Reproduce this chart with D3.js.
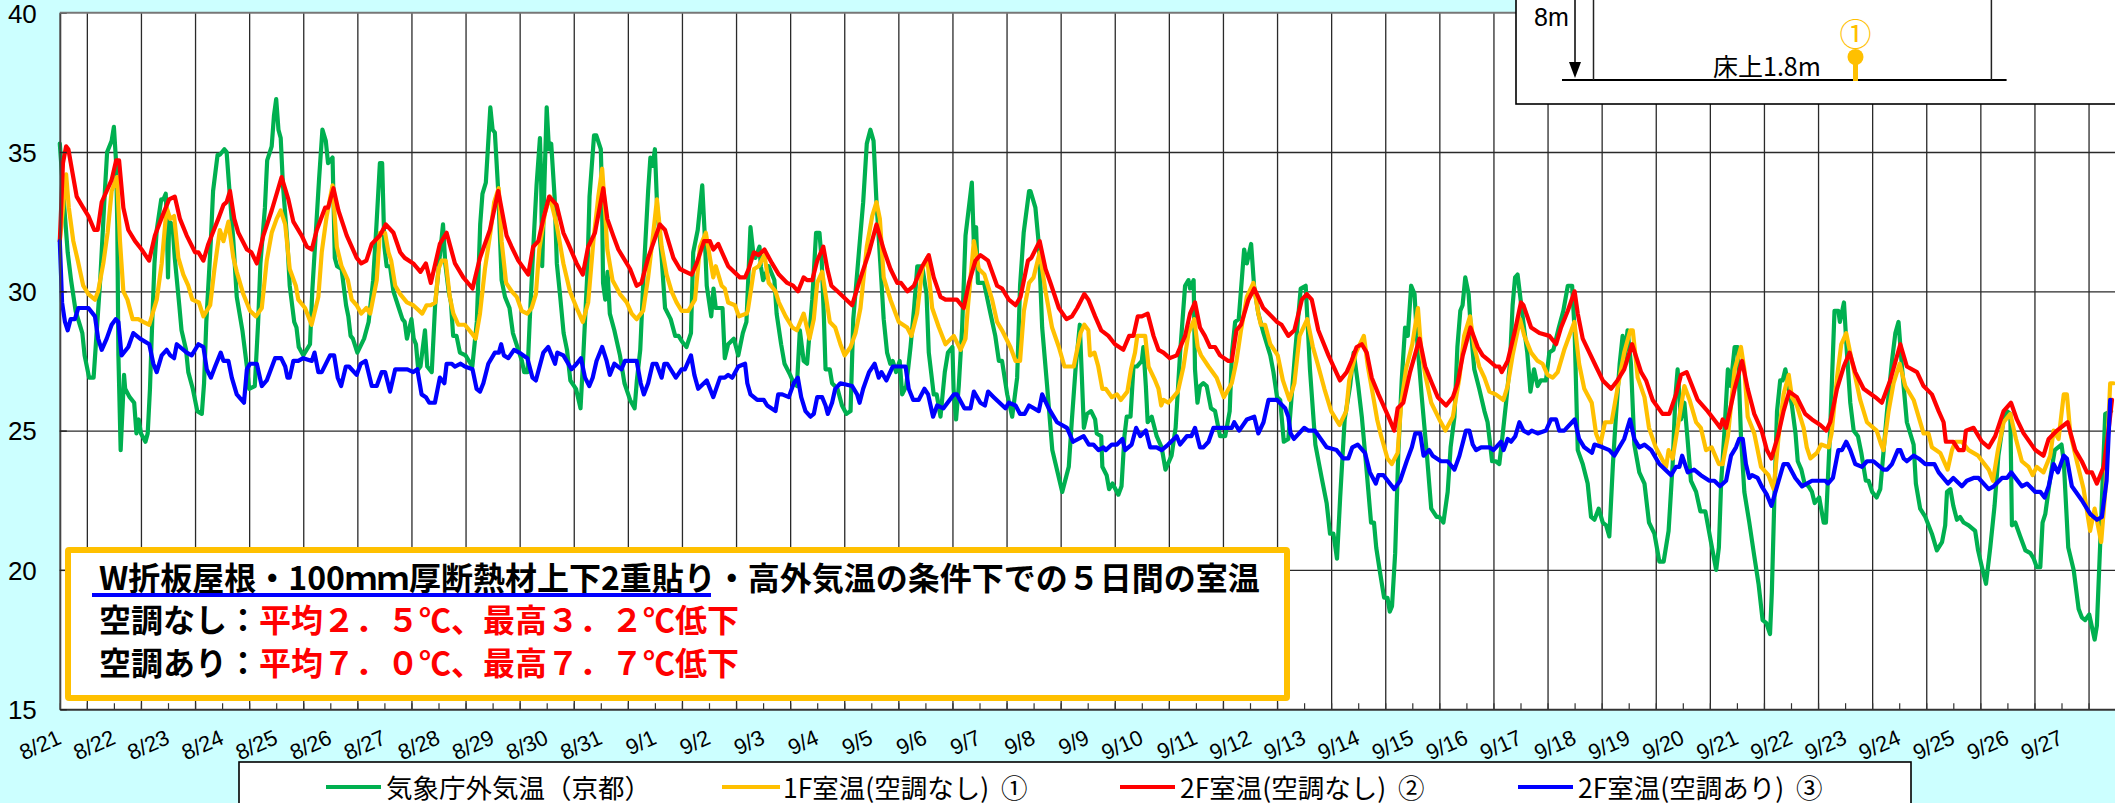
<!DOCTYPE html>
<html lang="ja">
<head>
<meta charset="utf-8">
<title>室温の推移</title>
<script src="https://cdn.jsdelivr.net/npm/d3@7"></script>
<style>
  html, body { margin: 0; padding: 0; background: #ccffff; overflow: hidden; }
  text { font-family: "Noto Sans CJK JP", "Noto Sans", sans-serif; }
  .num { font-family: "Liberation Sans", Arial, sans-serif; }
</style>
</head>
<body>
<div id="chart"></div>
<script>
// [経過時間(h), 温度(℃)] 8/21 00:00 起点, 画像から読み取り
const outdoorTemp = [[0,35.3],[2,33],[3.5,31.4],[5,30.4],[7,29.3],[10,28.5],[11,27.7],[13,26.9],[15,26.9],[16,28.1],[18,30.5],[20,33.6],[21,35],[23,35.4],[24,35.9],[25,34.6],[25.5,32.4],[26,27.7],[27,24.3],[28.5,27],[29,26.5],[31,26.2],[33,26],[34,24.9],[35,25.4],[36,24.9],[38,24.6],[39,24.9],[40,26.5],[41,28.9],[42,31],[43,32.2],[45,33.3],[46,33.3],[47,33.5],[47.5,32.4],[48,30.5],[48.5,32.5],[50,32.4],[51,31.2],[53,29.5],[54,28.6],[56,27.9],[57,27.1],[59,26.5],[61,25.7],[63,25.6],[64,26.7],[65,28.9],[67,31.8],[68,33.6],[70,34.9],[71,34.9],[73,35.1],[74,35],[75,33.9],[77,31.8],[78.5,29.8],[81,28.6],[83,27.3],[84,26.5],[86.5,26.6],[88,28.9],[89,31],[91,33],[92,34.7],[94,35.2],[95,36.3],[96,36.9],[97,35.8],[98,35.5],[99,33.8],[101,31.7],[102,30.2],[104,28.9],[105,28.7],[106,28],[108,27.7],[111,28.1],[112,30],[113.5,32],[115,34],[116.5,35.8],[118,35.4],[119,34.6],[121,34.8],[122,31.2],[123,30.9],[125,30.8],[127,29.5],[128,29.1],[129,28.4],[130,28.3],[132,27.8],[135,28.3],[137,28.9],[139,30.4],[140.5,32.4],[142,34.6],[143,34.6],[144,31.6],[145,30.9],[146.5,30.9],[148,30],[150,29.5],
  [152,29],[153,28.9],[154,28.3],[156,29],[157,28.3],[158,28.1],[159,27.2],[160,27.3],[162,28.6],[163,27.3],[165,27.1],[166.5,29.5],[168.5,31.2],[170,32.4],[171,31],[172.5,30],[173.5,29.6],[174.5,28.4],[176,28.4],[177.5,27.8],[180,27.7],[183,27.3],[185,28.9],[186.5,32.4],[187.5,33.5],[189,33.9],[191,36.6],[192,35.8],[193,35.7],[194.5,33.6],[196,30.4],[197.5,29.8],[199.5,29.4],[201,28.5],[203,28],[205,27.5],[206,27.1],[207.5,27.1],[208.5,29],[210,31.5],[211.5,33.8],[213,35.5],[213.5,34.2],[214,30.9],[215,33.9],[216,36.6],[217,35.1],[218,35.3],[219.5,33.4],[220.5,31],[222,29.8],[223.5,28.5],[225,27.9],[226.5,26.8],[229,26.5],[231,25.8],[232,27.3],[234,30.6],[235,33.4],[237,35.6],[238,35.6],[240,35.1],[240.5,33.6],[241,30.3],[242,29.7],[243,30.7],[244,29.2],[246,28.6],[248.5,27.7],[250.5,26.7],[253,26.1],[255,25.8],[256,26.8],[257.5,27.9],[259,30.6],[261,33.6],[262,34.8],[263,34.5],[264,35.1],[265,33],[267,31.2],[268.5,29.4],[271,29],[273,28.4],[274.5,28.4],[276,28.2],[278,28],[280,28.5],[281,31.4],[283,32.2],[285,33.8],[286,32.2],[287,30.2],[289,29.1],[290,30.1],[291,29.4],[294,29.4],[295,27.6],[296.5,28.1],[299,28.3],[301,27.7],[303,28.5],
  [304.6,28.9],[306.4,32.3],[307.6,31.4],[308.6,31.2],[310.4,31.6],[311,30.9],[312,30.4],[314.5,30.9],[317,30.4],[318,29.2],[320,28.1],[321.5,27.4],[324,27],[325.6,26.7],[327,26.6],[328.3,28.6],[330,27.5],[331.5,27.4],[333.8,29.7],[335.5,32.1],[337,32.1],[338,31.1],[339,29],[339.7,27.2],[341.6,27.2],[342.6,26.7],[345,26.5],[347,25.9],[349,25.6],[350.8,25.7],[352,29],[354.5,31.4],[356.4,33.2],[358,35.3],[359.6,35.8],[361,35.4],[362.3,33.2],[364,31],[365.5,29],[367,27.8],[368.4,27.4],[369.5,27.5],[371,27.1],[372.6,27.5],[373.7,26.3],[375.5,26.6],[377.4,28],[379,29.4],[380.4,30.9],[382.6,30.9],[384.5,29.9],[385.5,27.8],[387.7,26.3],[389,26.3],[390.7,25.5],[392.6,27.1],[394,27.8],[396,28],[396.5,26.5],[397.6,25.4],[398.8,26.6],[400.3,28.7],[401.8,32],[404.6,33.9],[405.5,31.7],[406.5,32.3],[407.3,30.3],[410,30.3],[412.6,29.3],[415,28.4],[416.6,27.5],[418,27.5],[420.3,26.3],[422.5,25.5],[424.7,26.9],[426,30.2],[427.6,32.1],[430,33.6],[430.6,33.6],[432.8,33],[434.3,31.7],[435.8,28.7],[438,26.6],[440.3,24.3],[444.7,22.8],[447.6,23.7],[449,25.4],[450.6,27.2],[452.5,28.8],[454.3,25.1],[455.7,25.6],[457.5,25.7],
  [459.3,25.4],[460,24.9],[462,24.8],[462.5,23.7],[464.4,23.4],[465.5,22.9],[467,23.1],[469.6,22.7],[471,23],[472.3,24.8],[473.3,25.5],[475,25.5],[476.3,27.3],[477.8,27.3],[480,27.5],[480.7,28],[481.8,26.6],[482.6,25.3],[484.4,25.5],[486.6,24.8],[488.8,24.4],[490.5,23.6],[493.2,24.1],[495,25.1],[497,27.8],[499.2,30.2],[500.7,30.4],[501.4,30.1],[503,30.4],[503.6,27.2],[504.7,26],[505.8,26.6],[507.3,26.7],[508.8,26.6],[510.7,25.8],[512.5,25.7],[514.7,24.8],[517,24.8],[519,25.7],[520,27.8],[521.4,28.9],[523,29],[525.4,31.5],[526.6,31],[528.5,31.7],[529.8,30.2],[531.7,29.2],[534,28.5],[537,27.7],[538.4,27.1],[540,26.2],[541.4,26.1],[543,24.6],[545,24.7],[548,27.8],[550.5,30.1],[552.7,30.2],[554.6,27.2],[557,24.5],[559.8,23.3],[562,22.4],[563.5,21.3],[565,21.3],[566.6,20.4],[568,22.6],[570,25.4],[572.4,26.6],[574,27.8],[576,26.6],[577.6,25.5],[579.8,23.5],[581.7,21.7],[583,21.7],[584,20.8],[585.7,19.9],[587.5,19],[589,19],[590,18.5],[591,18.7],[592.4,20.6],[593.8,24.2],[595.3,26.8],[596.8,28.7],[598,28.4],[599.5,30.2],[601,29.9],[602,28.4],[604.2,26.2],[606.4,24.2],[608.4,22.2],[610.8,21.9],
  [612,21.9],[613.8,21.7],[615.7,22.8],[617,24.4],[618.7,25.5],[620,28],[621.3,29.3],[622.3,29.5],[623.5,30.5],[625,29.9],[626,28.6],[627.5,27.2],[629.7,26.5],[632,25.7],[633.4,25.3],[635.4,23.9],[637,23.9],[638.6,23.8],[640,24.8],[641.6,26],[643.3,27.4],[644.5,29.5],[645.6,30.5],[646.7,30.6],[648.2,29.6],[649.7,28.6],[651,27.8],[652.4,26.4],[654,27.2],[655.6,26.6],[657,26.8],[659.3,26.8],[660.8,27.8],[662.6,27.9],[665,28.7],[667,29.3],[669,30.2],[670.9,30.2],[672,28.6],[673.4,24.3],[675.6,23.8],[677.8,23.1],[679.3,21.9],[680.8,21.8],[682.7,22.2],[684.5,21.7],[686,21.6],[687.4,21.2],[689,23.8],[690.4,25.6],[692,27.4],[693.3,28.4],[694,27.5],[695.5,28.6],[697,27.4],[698.5,24.5],[700.7,23.5],[703,23.1],[705,21.7],[707.4,21.3],[709.6,20.3],[711.5,20.3],[713.7,21.4],[715.5,23.8],[716.7,26.2],[717.7,27.2],[719.2,25.4],[720.7,26],[722,24.8],[723.6,23.2],[725.9,22.8],[727.8,22.1],[730,22.1],[732.5,21],[734.8,20],[736,20.8],[737,23.1],[738.5,25],[740,27.2],[741.2,26.6],[743,28],[744.4,28],[745.8,24.8],[747.3,22.8],[749.5,21.7],[751.7,20.5],[753.6,19.5],[755.4,18.2],[757,18.1],[758.7,17.7],
  [759.5,19.2],[760.7,22.8],[761.8,25.7],[763.2,26.8],[764.3,26.8],[765.5,27.2],[767,26.5],[768.4,25.9],[770,24.9],[771,23.9],[772.6,23.6],[774,23.1],[775.8,23],[777.3,22.8],[778.5,22.4],[780.5,22.6],[782.5,21.7],[783.5,21.7],[785.4,25.1],[787.3,29.3],[789,29.3],[789.7,28.9],[791.5,29.6],[792.8,27.8],[794.3,26],[795.8,25],[797.7,24.8],[799.2,24.2],[801.2,23.2],[802.4,23.2],[804,22.8],[806,22.6],[807.6,22.9],[809,24.2],[810.6,25.7],[812.8,27.5],[814.3,28.5],[815.7,28.9],[817.2,27.3],[819.4,25.3],[822.4,24.5],[823.4,23.1],[825.3,22.2],[827.6,21.9],[830.5,21.3],[832.7,20.7],[835,21],[836.4,21.6],[837.2,22.8],[838.7,22.9],[840,22.3],[841.6,21.8],[843,21.9],[844.6,21.7],[846.8,21.6],[849.7,21.4],[851,20.7],[852.7,20.1],[854.5,19.5],[856.4,20.8],[858.3,22.3],[860,24.1],[862.3,25.4],[863.8,25.7],[865.3,25.6],[866,21.6],[867.5,21.7],[869.7,21.2],[872,20.7],[874.2,20.6],[875.7,20.4],[877,20.1],[878.6,20.1],[879.6,21.7],[880.8,22],[883,23.3],[885,24.3],[888,24.5],[889,23.9],[891,20.8],[893.4,20],[895.6,18.6],[897,18.3],[898.5,18.2],[900.3,18.4],[902.7,17.5],[903.7,18],[905.2,21],[907.4,25.6],[910,25.7]];

const room1F = [[0,31.8],[2.8,34.2],[4,33],[6,31.8],[8,31.1],[10.4,30.2],[12.7,29.9],[15.6,29.7],[17,30],[19.3,31],[21.2,32.1],[23,33.6],[25.4,34.1],[26.7,31.8],[28.2,30],[30,29.7],[32.3,29],[34.8,29],[37,28.9],[39.7,28.8],[43,29.7],[45.2,31],[47.4,33],[49,32.6],[50.7,32.7],[52.6,31.2],[54.8,30.6],[57,30.2],[58.8,29.7],[61.7,29.6],[63.7,29.1],[66.7,29.5],[68.6,30.8],[71,32.2],[72.6,31.8],[74.8,32.5],[77,31.2],[78.5,30.7],[81.4,29.9],[84.4,29.3],[87,29.1],[89.6,29.4],[91.8,31.1],[94,32.1],[96.2,32.6],[98,32.9],[100,32.4],[102,30.8],[104.7,30.2],[105.8,29.7],[108.8,29.4],[111.7,28.8],[114.7,29.8],[116.2,31.4],[118.4,32.7],[121,33.8],[122.9,31.6],[125,30.9],[127.8,30.4],[129.5,29.7],[131.7,29.5],[133.7,29.2],[136,29.4],[137.7,29.2],[140.6,30.4],[142,32.1],[144.3,32.1],[145.8,31.4],[147,31.1],[148.8,30.2],[151,29.9],
  [154,29.6],[156.8,29.5],[160.8,29.2],[162.7,29.5],[164.5,29.5],[166.6,29.6],[168,30.8],[169.4,31.1],[171.2,31.1],[173,29.8],[174.6,29.2],[176.8,28.8],[179.7,28.8],[182.7,28.5],[184.5,28.3],[186.4,29.2],[188.6,30.8],[191,32.1],[192.7,33.2],[194.7,33.7],[196,31.8],[198,30.3],[200.5,30],[202.7,29.8],[204.9,29.3],[207.4,29.2],[209.3,29.4],[211.2,29.9],[212.7,31.5],[215.2,32.8],[217.4,33.4],[220.4,32.4],[223.4,31],[226.3,30],[229.3,29.4],[232,28.9],[234.4,29.6],[236.7,31.8],[238.9,33.4],[240.6,34.4],[241.8,33],[242.9,31.5],[245.2,30.4],[248.5,29.9],[251.5,29.6],[253.7,29.2],[255.9,29],[258.8,29.3],[261,30.5],[263.3,32.1],[264.9,33.3],[267,31.6],[269.2,30.6],[271.4,30],[273.6,29.6],[275.8,29.3],[278.8,29.3],[281.8,29.7],[284,31.6],[286.6,32.1],[288.4,31.2],[289.9,30.5],[291,30.9],[293.6,30.2],[295,30.1],[296.5,29.6],[299.5,29.5],[301.3,29.1],[304.7,29.2],
  [305.2,29.3],[308,30.8],[310,30.9],[312.6,31.3],[314.5,30.3],[317.5,30],[319,29.6],[322,29.1],[325,28.7],[327,28.6],[330,29.2],[332.6,28.3],[334.5,29],[336,30.3],[338.2,30.7],[339.7,29.9],[341.6,28.9],[344,28.7],[346.3,28.1],[348.2,27.7],[350.8,28],[353,28.5],[355.2,29.4],[358,31.6],[360.4,32.7],[362.3,33.2],[363.8,32.6],[365.5,30.5],[368.5,29.7],[372.2,28.9],[375.9,28.7],[377.8,28.4],[380.3,29.2],[382.6,30.8],[384.8,31.2],[387,29.4],[390,28.7],[392.9,28.1],[396.6,28.4],[399.6,27.9],[401.8,28.3],[402.8,29.4],[405.5,31.8],[407.7,30.8],[410.2,30.6],[413.6,29.7],[415.8,28.9],[418,28.6],[421.7,28],[424,27.5],[426,27.5],[427.7,29.3],[430,30.3],[432,30.5],[434.7,31.4],[437.3,30],[440.2,28.7],[443.2,28],[445.7,27.3],[449.8,27.3],[452.8,28.5],[454.5,28.8],
  [456.3,28.6],[457,27.7],[459,27.8],[460.7,27.3],[462.5,26.5],[464,26.5],[466.7,26.2],[469,26.3],[470.7,26.1],[473.6,26.4],[475.2,27.2],[477,27.8],[478,28.4],[481.5,28.4],[483,27.3],[485.9,26.8],[487.4,26.5],[488.6,25.9],[489.6,26.1],[491.8,26],[496,26.4],[498.5,27.3],[500.7,28.5],[503.3,29],[504.8,28],[506.3,27.7],[509.6,27.3],[513.2,26.9],[516.4,26.2],[519.9,26.7],[522,27.5],[524,28.6],[526.6,29.8],[529.5,30.3],[531.7,29.2],[532.8,28.8],[534.7,28.8],[537,28.1],[540.3,27.7],[542.6,26.8],[545.5,26.1],[547.7,26.7],[550,28.4],[553.4,29],[555.9,28],[558,27.4],[561,26.5],[564,25.7],[567.7,25.2],[570.7,25.7],[572,26.8],[575,27.8],[578.5,28.4],[580.3,27.3],[582.5,26.3],[584.4,25.4],[586.2,24.8],[589,24],[590.9,23.8],[593.5,24.2],[595,25.9],[597.2,27.2],[600,28.1],[602.5,29.4],[604,27.8],[606,26.9],[608.4,26],
  [612,25.4],[614.7,25],[618,25.5],[620.9,26.9],[623,28.4],[625.6,29.1],[627.5,28],[629.7,27.3],[632,26.9],[634.2,26.4],[637,26.3],[640.4,26.1],[642.3,26.6],[644.5,27.7],[647.8,29],[649.7,28.4],[652.7,27.8],[655.6,27.5],[657.8,27.4],[660,27],[662.3,26.9],[664.5,27.1],[667.4,27.9],[671.9,28.9],[674,27.4],[676.3,26.5],[679.6,26],[681.5,24.9],[683.4,24.5],[685.5,25.3],[688.4,25.3],[691,26.5],[694,27.8],[696.7,28.6],[697.8,28.6],[700,26.9],[703,26.2],[705,25.1],[708,24.4],[712.6,23.7],[713.7,24.3],[715.5,24],[718.5,25.5],[720.7,26.6],[723,26.1],[725.9,25.3],[728,25.1],[730.3,24.3],[732.8,24.4],[736,23.8],[737.7,23.8],[740,24.8],[743,27.2],[745.8,28],[747.3,27.2],[748.8,25.5],[751.7,24.9],[754.7,23.7],
  [758,23.4],[760.3,22.9],[762.5,24.8],[764.7,26.3],[767,27],[768.4,26.2],[770.6,25.9],[773.6,25.1],[775,24.4],[776.6,24],[779.5,24.2],[781.4,24.5],[784.7,24.4],[786,24.9],[788.4,26.9],[790.3,28.1],[792.5,28.5],[795,27.5],[798.7,26.1],[801.7,25.3],[806,25],[808,24.5],[809,24.3],[811.3,25.7],[813.5,26.7],[816.2,27.4],[818.7,26.6],[822.4,26.1],[824.6,25.5],[826.8,24.9],[829,24.9],[830.5,24.4],[834.2,24.2],[837.5,23.6],[839.4,24.3],[840.9,24.6],[843.8,24.6],[846.8,24.3],[851,24.1],[855.7,23.6],[857.6,23.2],[859.8,24.3],[862.3,25.3],[865.3,25.6],[867.8,24.7],[870.4,23.9],[873.4,23.7],[875.2,23.4],[877,23.7],[880,23.5],[883,24.1],[884.5,25],[886.7,24.7],[889,26.3],[890.4,26.3],[891.9,24.9],[894.8,23.9],[897.8,22.9],[900.7,21.4],[902.7,22.2],[905.6,21],[907.4,22.8],[909.6,26.7],[911,26.7]];

const room2F = [[0,31.8],[1.4,34.6],[2.8,35.2],[3.8,35.1],[5.3,34.4],[7.5,33.4],[10.4,33],[12.7,32.7],[15.3,32.2],[16.8,32.2],[18.6,33.2],[20.8,33.6],[23,34],[25,34.7],[26.3,34.7],[28.2,33],[30.4,32.2],[33.4,31.8],[36.3,31.5],[39.6,31.1],[42.2,32],[45.5,32.7],[48.5,33.3],[51,33.4],[53.3,32.6],[56.3,32],[60,31.4],[61.5,31.4],[63.7,31.1],[65.9,31.7],[70.3,32.6],[72.6,33.1],[74,33.2],[75.5,33.6],[77.4,32.6],[79.2,32.1],[83,31.5],[85,31.4],[87.4,31],[90.3,32],[94,32.9],[98.4,34.1],[101.4,33.3],[103.6,32.5],[107.3,32],[109.6,31.6],[111.8,31.5],[114,32.2],[117.7,33],[119,33],[121.4,33.7],[123.6,32.9],[127.3,32],[131.7,31.2],[133.7,31],[136,31.1],[138.4,31.7],[142,32],[144.6,32.4],[148,32.1],[151,31.4],
  [153,31.2],[156.8,31],[160,30.7],[162.4,31],[164.6,30.3],[168.6,31.7],[171.6,32.1],[175.3,31],[179,30.5],[183.1,30.1],[186.4,31.2],[190.8,32.2],[194.5,33.6],[198.2,32],[200.4,31.6],[203.4,31.1],[207.8,30.6],[210,31.6],[212.3,31.8],[214.5,32.6],[217.1,33.4],[220.4,33.1],[223.4,32.1],[225.6,31.7],[229.3,31],[232,30.6],[234.4,31.6],[237.4,32.1],[241.1,33.7],[242.9,32.6],[245.5,32],[247.8,31.5],[253,30.8],[255.9,30.2],[258,30.3],[261,31.2],[263.6,31.8],[266.2,32.4],[268.5,32.2],[272.2,31.2],[275.1,30.8],[280.3,30.6],[282.5,31],[285.8,31.8],[288.4,31.8],[289.9,31.5],[292.1,31.7],[296.5,30.9],[301.7,30.5],[304,30.5],
  [305.6,30.8],[307.9,31.4],[310,31.3],[312.6,31.5],[316,31],[319,30.6],[322.7,30.3],[325.3,30.2],[327.5,30],[330,30.5],[331.5,30.4],[333.8,30.4],[336,31.1],[338.7,31.6],[340.5,30.8],[342.3,30.2],[345,30],[351.5,29.5],[354.5,30.3],[359,31.4],[362.3,32.4],[365.5,31.5],[368.5,30.8],[371.5,30.3],[373.2,30.3],[376,30],[378.9,30.2],[382.6,30.9],[385.5,31.3],[387.7,30.5],[390.7,29.8],[392.9,29.7],[398,29.7],[401,29.4],[403.3,30.3],[406.2,31.1],[408.4,31.3],[411.8,31.1],[415.8,30.2],[418,30.1],[421,29.7],[424,29.5],[426.2,29.8],[429.5,31.1],[431,31.2],[434.7,31.8],[437.3,30.8],[439.5,30.3],[443.2,29.4],[446.6,29],[449,29.1],[451.3,29.4],[454.5,29.9],
  [456.3,29.7],[459.3,29.1],[462,28.6],[465.2,28.4],[468.1,28.1],[471.8,27.9],[474.4,28.4],[476.3,28.4],[478.2,29.1],[480,29.1],[482.6,29.2],[485.2,28.4],[487.4,27.9],[489.6,27.8],[492.4,27.6],[495.5,27.7],[499.2,28.4],[501.4,29.2],[503.6,29.6],[505.8,28.7],[508,28.4],[510.3,28],[512.5,28],[514.7,27.7],[518.4,27.5],[519.9,27.5],[522,28.6],[524,28.8],[527.3,29.7],[529.9,30.1],[533.9,29.4],[540,28.9],[542,28.8],[545,28.4],[547.7,28.6],[551,29.7],[553.2,29.9],[555.4,29.7],[558.3,28.6],[562.8,27.7],[567.9,26.8],[570.9,27.1],[573,27.5],[575.3,28],[577.6,28.1],[579.8,27.8],[582,26.9],[585,26.3],[589.4,25.5],[592,25],[593.5,25.8],[596,26],[599,27.1],[603.2,28.3],[605.7,27.3],[608.7,26.7],
  [611.3,26.2],[615,25.9],[618,26.2],[620.1,26.7],[622.4,27.7],[625.8,28.7],[629,28],[631.2,27.7],[634.2,27.5],[637,27.3],[638.6,27.3],[639.7,27.1],[642.3,27.5],[645.3,28.5],[648.2,29.6],[649.3,29.5],[652.7,28.7],[656.4,28.5],[660.8,28.4],[663.8,28.1],[666,28.7],[669,29.3],[672,30],[673.4,29.2],[675.6,28.3],[681.5,27.3],[684.5,26.8],[688.2,26.5],[691,26.8],[694,27.2],[697.5,28.1],[701.5,27.1],[703.7,26.8],[706.6,26.1],[711,25.6],[714,25.6],[717,26.3],[719.2,27],[721.7,27.1],[726.6,26.1],[731,25.7],[734.8,25.3],[736.6,25.1],[737.7,25.4],[739.2,25.1],[743,26.5],[746.3,27.5],[748.8,26.5],[751.7,25.6],
  [755,25],[757.3,24.3],[759.3,24],[762.2,24.8],[764.7,25.7],[767.2,26.4],[770.6,26.2],[774.3,25.6],[777.3,25.4],[781,25.2],[783.7,25],[785.4,25.3],[788.4,26.5],[791.4,27.3],[794,27.8],[796.5,27.1],[800.2,26.5],[805.4,26.2],[808.3,26],[812,26.8],[816.5,28.1],[819.4,27.3],[823.9,27.1],[826.8,26.6],[830.5,26.3],[833.5,25.7],[835.7,25.3],[836.7,24.6],[840,24.6],[842.4,24.3],[844.6,24.3],[845.6,25],[849,25.1],[852.7,24.6],[855.7,24.4],[858.6,24.8],[862.3,25.7],[865.6,26],[868.2,25.4],[871.2,24.9],[876.4,24.3],[880,24.1],[882.3,24.7],[886,25],[890.7,25.3],[894.1,24.3],[897,23.9],[899.3,23.5],[901.5,23.5],[903.7,23.1],[906.7,23.7],[909,25.1],[910.4,26.1]];

const room2FAc = [[0,31.8],[1,29.6],[2.3,28.9],[3.5,28.6],[4.8,29],[6.7,29],[8.2,29.4],[10.4,29.4],[12.7,29.4],[15.6,29.1],[17,28.3],[18.6,27.9],[20.8,28.3],[23,28.8],[24.8,29],[26,28.9],[27.4,27.7],[30.4,28],[32.6,28.5],[35.6,28.3],[39.7,28.1],[41.5,27.4],[43,27.1],[45.2,27.7],[47.4,27.9],[49,27.7],[50.7,27.6],[51.9,28.1],[56.3,27.8],[58.5,27.7],[61.5,28.1],[63.7,28],[65.2,27.2],[67,26.9],[68.9,27.3],[71.4,27.8],[72.6,27.5],[74.8,27.5],[76.3,26.9],[78.5,26.3],[81.7,26],[83,27.2],[84.4,27.4],[87.4,27.4],[89.6,26.6],[91.8,26.8],[95.5,27.6],[98.2,27.6],[100,27.3],[101,26.9],[102,26.9],[103.6,27.5],[105.8,27.5],[108,27.6],[111.8,27.5],[113,27.8],[114.7,27.1],[116.2,27.1],[119.9,27.7],[121.7,27.7],[123.3,26.9],[124.8,26.6],[126.9,27.3],[128.3,27.3],[131.7,27],[133.5,27.4],[135.7,27.5],[138.4,26.6],[140.6,26.6],[142.8,27.1],[144.3,27.1],[146.5,26.4],[148.8,27.2],
  [151,27.2],[154.2,27.2],[156.8,27.1],[158.6,27.2],[160.5,26.3],[162.4,26.2],[163.9,26],[166.4,26],[168.6,26.9],[170.6,26.7],[171.6,27.4],[173.8,27.4],[175.3,27.3],[177.8,27.4],[179.7,27.3],[183.1,27.2],[184.9,26.5],[186.4,26.4],[187.9,26.7],[190.1,27.4],[193,27.8],[194.8,27.8],[195.8,28.1],[197,27.7],[199,27.6],[201.5,27.9],[203.8,27.8],[207.4,27.6],[209.7,26.9],[211.2,26.8],[214.5,27.8],[216.7,28],[219.7,27.4],[220.7,27.8],[223.4,27.7],[227,27.2],[229.3,27.4],[231.2,27.6],[233,26.9],[234.9,26.6],[236.4,26.9],[238.1,27.5],[240.6,28],[242.6,27.5],[244,27],[246,27.4],[249.2,27.2],[250.7,27.5],[255.9,27.5],[257.7,26.7],[259.1,26.3],[261,26.7],[263,27.4],[264.7,27.4],[267,26.9],[268.2,27.4],[269.5,27.4],[273.3,26.9],[275.8,27.2],[277.3,27.2],[280,27.7],[281.5,27],[283.2,26.5],[287,26.8],[289.9,26.2],[292.9,26.9],[295,26.9],[296.5,27],[298.3,26.9],[301,27.3],[304,27.4],
  [305,26.7],[306.4,26.3],[309.4,26.1],[312.3,26.1],[313.8,25.9],[317.5,25.7],[318.7,26.3],[320.5,26.3],[323.4,26.2],[325.6,26.7],[327.4,26.9],[328.9,26.2],[330.8,25.7],[333,25.5],[334.5,25.6],[336,26.2],[338.2,26.2],[339.7,25.9],[340.7,25.6],[342.6,26],[344,26.5],[346.3,26.7],[351.5,26.6],[353.7,26.3],[354.8,26],[356.4,26.5],[359,27.1],[361.5,27.4],[363.3,26.9],[364.5,27.1],[366.7,26.8],[369.5,27.3],[372.9,27.3],[375.2,27.3],[376.6,26.5],[378.6,26.1],[381,26.1],[383.6,26.5],[385.2,26.3],[387.4,25.5],[389.2,25.9],[392,25.8],[396.6,26.3],[398,26.3],[401.3,25.8],[404,25.8],[405.5,26.4],[408.4,26],[410.4,25.9],[411.8,26.4],[414.3,26.2],[419.5,25.8],[421,26],[424,25.9],[426,25.6],[428,25.6],[430,25.9],[434.3,25.7],[435.8,26.3],[438.7,25.8],[442.4,25.3],[446.8,25.1],[449.5,24.6],[454.2,24.8],[456.5,24.5],
  [458.5,24.5],[460.8,24.3],[463,24.4],[464,24.3],[466.7,24.5],[469,24.5],[471.4,24.7],[472.6,24.3],[475.5,24.5],[477.5,25.1],[479.3,24.8],[481.8,25],[483.7,24.4],[486.6,24.4],[488.8,24.3],[491.7,24.5],[495.5,24.8],[497,24.5],[500,24.8],[502,24.8],[503.6,25.1],[505.8,24.4],[507.3,24.4],[509.6,24.6],[511.8,25.1],[513.7,25.1],[519.9,25.1],[521,25.3],[523.2,25],[526.6,25.4],[529.9,25.5],[531.7,24.9],[534,25.3],[536.2,26.1],[540,26.1],[543.6,25.8],[545,25.5],[546,24.9],[547.5,24.7],[552,25.1],[553.8,25],[556.8,25],[562,24.4],[566.4,24.3],[569.4,24],[571.6,24],[573.4,24.4],[575.8,24.5],[579,24.2],[581.2,23.5],[583.8,23.1],[585,23.4],[587.2,23.4],[592,22.9],[594.6,23.2],[597.5,23.9],[599.8,24.4],[601.3,24.9],[603.5,24.9],[605,24.1],[607.5,24.3],
  [609,24.1],[612.7,23.9],[615.7,23.9],[618.7,23.6],[620.9,24.1],[623.8,25],[625.3,25],[626.8,24.5],[628.3,24.3],[630.5,24.4],[634.2,24.4],[636,24.3],[639.4,24.6],[640.5,24.3],[642.3,24.7],[643.8,24.6],[645.7,24.8],[647.5,25.3],[649.3,25],[651.5,24.9],[653,25],[655.6,24.9],[659.3,25],[661.5,25.4],[663.8,25.4],[665.2,25],[667.4,25],[672,25.4],[674,24.7],[676.3,24.4],[679.7,24.2],[680.8,24.5],[684.5,24.4],[687.4,24.3],[689.6,24.1],[694,24.7],[696.6,25.4],[698.5,24.7],[700.7,24.4],[703,24.5],[706,24.3],[709.6,23.8],[714.8,23.4],[717,23.7],[718.5,23.7],[719.7,24.1],[722.2,23.5],[725,23.6],[728,23.4],[731.8,23.2],[734,23.2],[736.5,23],[739.2,23.2],[741.4,24.1],[743.6,24.4],[745,24.7],[746.6,24.7],[748,23.8],[749.5,23.3],[750.7,23.4],[753.2,23.3],
  [755,23],[757.3,22.7],[759.3,22.3],[761.8,23],[764.7,23.8],[766.6,23.8],[769.9,23.3],[772.9,23],[775,23.1],[777.3,23.2],[783.2,23.2],[784.4,23.1],[786.6,23.3],[789,24.3],[790.6,24.3],[792.5,24.6],[794.3,24.3],[796.5,23.8],[799.5,23.7],[801.7,23.9],[804.6,23.9],[809,23.6],[810.6,23.6],[812.8,23.8],[815.4,24.3],[816.5,24.3],[818,24],[819.4,23.9],[822.4,24.1],[824.6,24],[827.6,23.8],[831.6,23.8],[833.5,23.5],[837.6,23.1],[840,23.3],[843.8,23],[846,23.2],[849,23.3],[851.2,23.3],[855.7,22.9],[857.9,23],[861.6,23.3],[863.8,23.3],[865.7,23.5],[870.4,23],[872.7,23.1],[876.4,22.8],[878.6,22.8],[880.5,22.6],[882.3,23],[884.5,23.8],[886.4,23.5],[889,24.1],[890.4,24],[892.6,23],[897,22.5],[900.8,22],[903.7,21.8],[905.9,21.9],[908,23.2],[909.6,26.1]];

const dayLabels = ["8/21","8/22","8/23","8/24","8/25","8/26","8/27","8/28","8/29","8/30","8/31",
  "9/1","9/2","9/3","9/4","9/5","9/6","9/7","9/8","9/9","9/10","9/11","9/12","9/13","9/14","9/15",
  "9/16","9/17","9/18","9/19","9/20","9/21","9/22","9/23","9/24","9/25","9/26","9/27"];
const yTicks = [15, 20, 25, 30, 35, 40];
const seriesNames = ["気象庁外気温（京都）", "1F室温(空調なし)  ①", "2F室温(空調なし)  ②", "2F室温(空調あり)  ③"];
const seriesColors = ["#00b050", "#ffc000", "#ff0000", "#0000ff"];
const seriesData = [outdoorTemp, room1F, room2F, room2FAc];

const W = 2115, H = 803;
const margin = { left: 59.8, right: 2115.6, top: 12.7, bottom: 709.2 };

const svg = d3.select("#chart").append("svg").attr("width", W).attr("height", H).style("display", "block");
svg.append("rect").attr("width", W).attr("height", H).attr("fill", "#ccffff");
svg.append("rect").attr("x", margin.left).attr("y", margin.top)
  .attr("width", margin.right - margin.left).attr("height", margin.bottom - margin.top).attr("fill", "#fff");

const x = d3.scaleLinear().domain([0, 912]).range([margin.left, margin.right]);
const y = d3.scaleLinear().domain([15, 40]).range([margin.bottom, margin.top]);

// 目盛線: 縦は各日の正午, 横は5℃毎
const gGridV = svg.append("g").attr("transform", `translate(0,${margin.bottom})`)
  .call(d3.axisBottom(x).tickValues(dayLabels.map((d, i) => i * 24 + 12).concat(912))
    .tickSize(-(margin.bottom - margin.top)).tickFormat(""));
gGridV.select(".domain").remove();
gGridV.selectAll("line").attr("stroke", "#2a2a2a").attr("stroke-width", 1.3);

const gGridH = svg.append("g").attr("transform", `translate(${margin.left},0)`)
  .call(d3.axisLeft(y).tickValues([20, 25, 30, 35]).tickSize(-(margin.right - margin.left)).tickFormat(""));
gGridH.select(".domain").remove();
gGridH.selectAll("line").attr("stroke", "#2a2a2a").attr("stroke-width", 1.3);

// 系列
const line = d3.line().x((d) => x(d[0])).y((d) => y(d[1])).curve(d3.curveLinear);
svg.append("g").selectAll("path").data(seriesData).join("path")
  .attr("fill", "none").attr("stroke", (d, i) => seriesColors[i]).attr("stroke-width", 4.2)
  .attr("stroke-linejoin", "round").attr("stroke-linecap", "round").attr("d", line);

// 軸
const gx = svg.append("g").attr("transform", `translate(0,${margin.bottom})`)
  .call(d3.axisBottom(x).tickValues(d3.range(0, 913, 12)).tickSizeInner(-6).tickSizeOuter(0).tickFormat(""));
gx.select(".domain").attr("stroke", "#333").attr("stroke-width", 2);
gx.selectAll("line").attr("stroke", "#333").attr("stroke-width", 1.2);

svg.append("g").selectAll("text").data(dayLabels).join("text")
  .attr("class", "num").attr("font-size", 22).attr("text-anchor", "end").attr("fill", "#000")
  .attr("transform", (d, i) => `translate(${x(i * 24) + 3},${743}) rotate(-24)`)
  .text((d) => d);

const gy = svg.append("g").attr("transform", `translate(${margin.left},0)`)
  .call(d3.axisLeft(y).tickValues(yTicks).tickSizeInner(-7).tickSizeOuter(0).tickPadding(0).tickFormat(d3.format("d")));
gy.select(".domain").attr("stroke", "#444").attr("stroke-width", 2);
gy.selectAll("line").attr("stroke", "#222").attr("stroke-width", 1.4);
gy.selectAll("text").attr("class", "num").attr("font-size", 26).attr("fill", "#000")
  .attr("x", -23).attr("dy", "0.36em");

svg.append("line").attr("x1", margin.left).attr("x2", margin.right)
  .attr("y1", margin.top).attr("y2", margin.top).attr("stroke", "#777").attr("stroke-width", 2);

// 右上の断面図
const inset = svg.append("g");
inset.append("rect").attr("x", 1516).attr("y", -4).attr("width", 610).attr("height", 108)
  .attr("fill", "#fff").attr("stroke", "#000").attr("stroke-width", 1.6);
inset.append("line").attr("x1", 1562).attr("x2", 2006.6).attr("y1", 80).attr("y2", 80).attr("stroke", "#000").attr("stroke-width", 2);
inset.selectAll(".wall").data([1593.5, 1991.4]).join("line").attr("class", "wall")
  .attr("x1", (d) => d).attr("x2", (d) => d).attr("y1", 0).attr("y2", 80).attr("stroke", "#222").attr("stroke-width", 1.5);
inset.append("line").attr("x1", 1575).attr("x2", 1575).attr("y1", 0).attr("y2", 66).attr("stroke", "#000").attr("stroke-width", 1.5);
inset.append("path").attr("d", "M1569,62 L1581,62 L1575,78 Z").attr("fill", "#000");
inset.append("text").attr("x", 1534).attr("y", 26).attr("font-size", 25).attr("class", "num").text("8m");
inset.append("text").attr("x", 1713).attr("y", 76).attr("font-size", 25).attr("fill", "#000").text("床上1.8m");
inset.append("line").attr("x1", 1855.5).attr("x2", 1855.5).attr("y1", 57).attr("y2", 81).attr("stroke", "#ffc000").attr("stroke-width", 5);
inset.append("circle").attr("cx", 1855.5).attr("cy", 57).attr("r", 8).attr("fill", "#ffc000");
inset.append("text").attr("x", 1855.5).attr("y", 46).attr("font-size", 32).attr("text-anchor", "middle").attr("fill", "#ffc000").text("①");

// 説明ボックス
const note = svg.append("g");
note.append("rect").attr("x", 68).attr("y", 550).attr("width", 1219).attr("height", 148)
  .attr("fill", "#fff").attr("stroke", "#ffc000").attr("stroke-width", 6).attr("rx", 1);
note.append("text").attr("x", 99).attr("y", 590).attr("font-size", 32).attr("font-weight", 700).attr("fill", "#000")
  .text("W折板屋根・100ｍｍ厚断熱材上下2重貼り・高外気温の条件下での５日間の室温");
note.append("line").attr("x1", 92).attr("x2", 711).attr("y1", 595).attr("y2", 595).attr("stroke", "#0000ff").attr("stroke-width", 4);
const noteRows = [["空調なし：", "平均２．５℃、最高３．２℃低下", 632], ["空調あり：", "平均７．０℃、最高７．７℃低下", 675]];
noteRows.forEach((r) => {
  const t = note.append("text").attr("x", 99).attr("y", r[2]).attr("font-size", 32).attr("font-weight", 700);
  t.append("tspan").attr("fill", "#000").text(r[0]);
  t.append("tspan").attr("fill", "#ff0000").text(r[1]);
});

// 凡例
const legend = svg.append("g");
legend.append("rect").attr("x", 239).attr("y", 762).attr("width", 1672).attr("height", 60)
  .attr("fill", "#fff").attr("stroke", "#000").attr("stroke-width", 1.6);
const legendX = [[326, 381, 386], [722, 780, 783], [1120, 1175, 1180], [1518, 1573, 1578]];
seriesNames.forEach((name, i) => {
  legend.append("line").attr("x1", legendX[i][0]).attr("x2", legendX[i][1]).attr("y1", 787).attr("y2", 787)
    .attr("stroke", seriesColors[i]).attr("stroke-width", 4.2);
  legend.append("text").attr("x", legendX[i][2]).attr("y", 798).attr("font-size", 26.5).attr("fill", "#000")
    .style("white-space", "pre").text(name);
});
</script>
</body>
</html>
